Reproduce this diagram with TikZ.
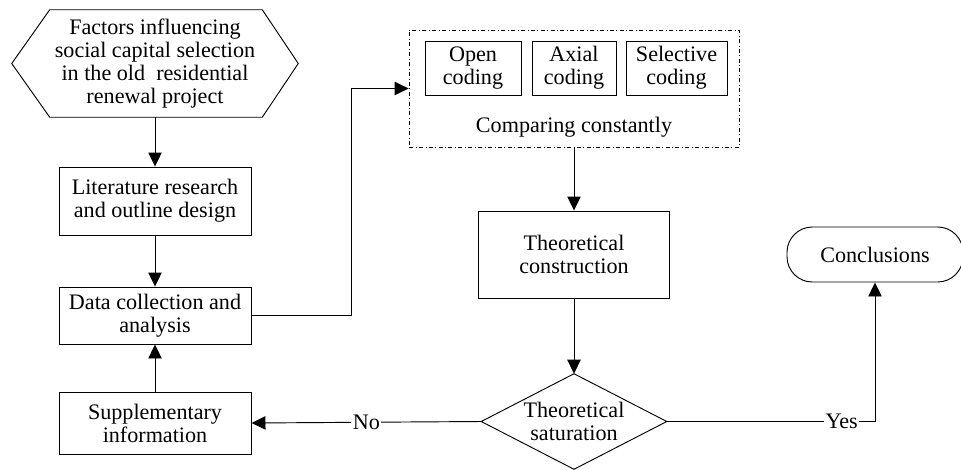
\documentclass[tikz,border=0pt]{standalone}
\usepackage{fontspec}
\setmainfont{Liberation Serif}
\usetikzlibrary{arrows.meta}

\tikzset{
  txt/.style={align=center, font=\fontsize{16.6}{17.3}\selectfont},
  box/.style={txt, draw, line width=0.7pt, inner sep=2pt},
  ghost/.style={txt, inner sep=0pt},
  link/.style={line width=0.7pt},
  arr/.style={link, -{Triangle[length=10.5pt,width=10pt]}},
  lbl/.style={txt, fill=white, inner sep=1pt}
}

\begin{document}
\begin{tikzpicture}[x=0.75pt, y=-0.75pt]
        \useasboundingbox (0,0) rectangle (961,469);

        % Draw the hexagon with the research topic
        \node[ghost, minimum width=214.5pt, minimum height=80.25pt] (factors) at (155,63.5) {Factors influencing\\social capital selection\\in the old~ residential\\renewal project};
        \draw[link] ([xshift=28.5pt]factors.north west) -- ([xshift=-27pt]factors.north east) -- (factors.east)
            -- ([xshift=-27pt]factors.south east) -- ([xshift=28.5pt]factors.south west) -- (factors.west) -- cycle;

        % Left column
        \node[box, minimum width=144pt, minimum height=51pt] (lit) at (155,201) {Literature research\\and outline design};
        \node[box, minimum width=144pt, minimum height=42.75pt] (data) at (155,315.5) {Data collection and\\analysis};
        \node[box, minimum width=144pt, minimum height=46.5pt] (supp) at (155,423) {Supplementary\\information};

        % The three coding steps inside the dash-dotted frame
        \node[box, minimum width=72pt, minimum height=40.5pt] (open) at (473,68) {Open\\coding};
        \node[box, minimum width=63pt, minimum height=40.5pt] (axial) at (574,68) {Axial\\coding};
        \node[box, minimum width=75.75pt, minimum height=40.5pt] (selective) at (676.5,68) {Selective\\coding};
        \node[ghost] (compare) at (574,127) {Comparing constantly};
        \node[draw, dash dot, line width=0.5pt, minimum width=247.5pt, minimum height=87.75pt] (coding) at (574,88.5) {};

        % Theory building and the saturation check
        \node[box, minimum width=143.25pt, minimum height=65.25pt] (theory) at (574,254.5) {Theoretical\\construction};
        \node[ghost, minimum width=138.75pt, minimum height=71.25pt] (saturation) at (574,421.5) {Theoretical\\saturation};
        \draw[link] (saturation.north) -- (saturation.east) -- (saturation.south) -- (saturation.west) -- cycle;

        \node[box, rounded corners=19pt, minimum width=132pt, minimum height=41.25pt] (concl) at (875,254.5) {Conclusions};

        % Connectors
        \draw[arr] (factors.south) -- (lit.north);
        \draw[arr] (lit.south) -- (data.north);
        \draw[arr] (supp.north) -- (data.south);
        \draw[arr] (data.east) -- ++(100,0) |- (coding.west);
        \draw[arr] (coding.south) -- (theory.north);
        \draw[arr] (theory.south) -- (saturation.north);
        \draw[arr] (saturation.west) -- node[lbl] {No} (supp.east);
        \draw[arr] (saturation.east) -| node[lbl, pos=0.42] {Yes} (concl.south);

    \end{tikzpicture}
\end{document}
